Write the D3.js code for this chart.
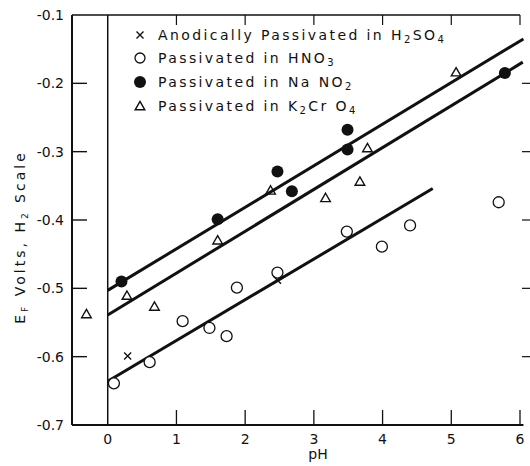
<!DOCTYPE html>
<html>
<head>
<meta charset="utf-8">
<script src="https://cdn.jsdelivr.net/npm/d3@7"></script>
<style>
  body { margin: 0; background: #fff; }
  svg text { font-family: "DejaVu Sans", sans-serif; fill: #111; }
</style>
</head>
<body>
<svg id="chart"></svg>
<script>
// data (pH, E_F volts)
var h2so4 = [[0.29, -0.599], [2.47, -0.488]];
var hno3 = [[0.09, -0.639], [0.61, -0.608], [1.09, -0.548], [1.48, -0.558], [1.73, -0.570],
            [1.88, -0.499], [2.47, -0.477], [3.48, -0.417], [3.99, -0.439], [4.40, -0.408], [5.69, -0.374]];
var nano2 = [[0.2, -0.49], [1.6, -0.399], [2.47, -0.329], [2.68, -0.358], [3.49, -0.268],
             [3.49, -0.297], [5.78, -0.185]];
var k2cro4 = [[-0.31, -0.539], [0.28, -0.512], [0.68, -0.528], [1.6, -0.431], [2.37, -0.358],
              [3.17, -0.369], [3.67, -0.345], [3.78, -0.296], [5.07, -0.185]];
// fitted lines: [pH start, E start, pH end, E end]
var fitLines = [[0, -0.503, 6.05, -0.135], [0, -0.539, 6.04, -0.169], [0, -0.636, 4.73, -0.354]];

var xTicks = [0, 1, 2, 3, 4, 5, 6];
var yTicks = [-0.1, -0.2, -0.3, -0.4, -0.5, -0.6, -0.7];

var margin = {top: 15, right: 8, bottom: 41, left: 72},
    width = 530, height = 466;

var svg = d3.select("#chart").attr("width", width).attr("height", height);

var x = d3.scaleLinear().domain([-0.52, 6]).range([margin.left, 520]);
var y = d3.scaleLinear().domain([-0.7, -0.1]).range([height - margin.bottom, margin.top]);

var g = svg.append("g");

// frame: left, bottom, top
g.append("line").attr("x1", x(-0.52)).attr("x2", x(-0.52)).attr("y1", y(-0.1)).attr("y2", y(-0.7))
  .attr("stroke", "#111").attr("stroke-width", 2);
g.append("line").attr("x1", x(-0.52)).attr("x2", x(6.05)).attr("y1", y(-0.7)).attr("y2", y(-0.7))
  .attr("stroke", "#111").attr("stroke-width", 2);
g.append("line").attr("x1", x(-0.52)).attr("x2", x(6)).attr("y1", y(-0.1)).attr("y2", y(-0.1))
  .attr("stroke", "#111").attr("stroke-width", 1.6);
// pH 0 line
g.append("line").attr("x1", x(0)).attr("x2", x(0)).attr("y1", y(-0.1)).attr("y2", y(-0.7))
  .attr("stroke", "#111").attr("stroke-width", 1.5);

// left axis ticks (inward)
g.selectAll(".ytick").data(yTicks.slice(1, 6)).enter().append("line")
  .attr("x1", x(-0.52)).attr("x2", x(-0.52) + 15)
  .attr("y1", function(d) { return y(d); }).attr("y2", function(d) { return y(d); })
  .attr("stroke", "#111").attr("stroke-width", 1.4);
g.selectAll(".ylab").data(yTicks).enter().append("text")
  .attr("x", x(-0.52) - 8).attr("y", function(d) { return y(d) + 5; })
  .attr("text-anchor", "end").style("font-size", "14px")
  .text(function(d) { return d.toFixed(1); });

// right ticks
g.selectAll(".rtick").data(yTicks.slice(1, 6)).enter().append("line")
  .attr("x1", 522).attr("x2", 530)
  .attr("y1", function(d) { return y(d); }).attr("y2", function(d) { return y(d); })
  .attr("stroke", "#111").attr("stroke-width", 1.2);

// bottom ticks (inward) and top ticks
g.selectAll(".xtick").data(xTicks.slice(1)).enter().append("line")
  .attr("x1", function(d) { return x(d); }).attr("x2", function(d) { return x(d); })
  .attr("y1", y(-0.7)).attr("y2", y(-0.7) - 15)
  .attr("stroke", "#111").attr("stroke-width", 1.3);
g.selectAll(".ttick").data(xTicks.slice(1)).enter().append("line")
  .attr("x1", function(d) { return x(d); }).attr("x2", function(d) { return x(d); })
  .attr("y1", y(-0.1)).attr("y2", y(-0.1) + 10)
  .attr("stroke", "#111").attr("stroke-width", 1.2);
g.selectAll(".xlab").data(xTicks).enter().append("text")
  .attr("x", function(d) { return x(d); }).attr("y", y(-0.7) + 19)
  .attr("text-anchor", "middle").style("font-size", "14px")
  .text(function(d) { return d; });

// axis titles
g.append("text").attr("x", 318).attr("y", 459).attr("text-anchor", "middle")
  .style("font-size", "14px").text("pH");
var yt = g.append("text").attr("transform", "translate(25,237) rotate(-90)")
  .attr("text-anchor", "middle").style("font-size", "14px").style("letter-spacing", "3px");
yt.append("tspan").text("E");
yt.append("tspan").attr("dy", 3).style("font-size", "9px").text("F");
yt.append("tspan").attr("dy", -3).text(" Volts,  H");
yt.append("tspan").attr("dy", 3).style("font-size", "9px").text("2");
yt.append("tspan").attr("dy", -3).text(" Scale");

// fit lines
g.selectAll(".fit").data(fitLines).enter().append("line")
  .attr("x1", function(d) { return x(d[0]); }).attr("y1", function(d) { return y(d[1]); })
  .attr("x2", function(d) { return x(d[2]); }).attr("y2", function(d) { return y(d[3]); })
  .attr("stroke", "#111").attr("stroke-width", 3);

// markers
var tri = d3.symbol().type(d3.symbolTriangle).size(40);

function drawCross(sel, px, py) {
  sel.append("path").attr("transform", "translate(" + px + "," + py + ")")
    .attr("d", "M-3.5,-3.5L3.5,3.5M-3.5,3.5L3.5,-3.5").attr("stroke", "#111").attr("stroke-width", 1.4);
}

g.selectAll(".hno3").data(hno3).enter().append("circle")
  .attr("cx", function(d) { return x(d[0]); }).attr("cy", function(d) { return y(d[1]); })
  .attr("r", 5.5).attr("fill", "#fff").attr("stroke", "#111").attr("stroke-width", 1.3);
g.selectAll(".nano2").data(nano2).enter().append("circle")
  .attr("cx", function(d) { return x(d[0]); }).attr("cy", function(d) { return y(d[1]); })
  .attr("r", 6).attr("fill", "#111");
g.selectAll(".k2").data(k2cro4).enter().append("path")
  .attr("transform", function(d) { return "translate(" + x(d[0]) + "," + y(d[1]) + ")"; })
  .attr("d", tri).attr("fill", "none").attr("stroke", "#111").attr("stroke-width", 1.4);
h2so4.forEach(function(d) { drawCross(g, x(d[0]), y(d[1])); });

// legend
var legY = [35, 58, 82, 106];
var lx = 140, tx = 158;
drawCross(g, lx, legY[0]);
g.append("circle").attr("cx", lx).attr("cy", legY[1]).attr("r", 5).attr("fill", "#fff")
  .attr("stroke", "#111").attr("stroke-width", 1.3);
g.append("circle").attr("cx", lx).attr("cy", legY[2]).attr("r", 6).attr("fill", "#111");
g.append("path").attr("transform", "translate(" + lx + "," + (legY[3] + 1) + ")").attr("d", tri)
  .attr("fill", "none").attr("stroke", "#111").attr("stroke-width", 1.4);

function legText(yy, parts) {
  var t = g.append("text").attr("x", tx).attr("y", yy + 5).style("font-size", "14px")
    .style("letter-spacing", "2.4px");
  parts.forEach(function(p) {
    if (p.sub) t.append("tspan").attr("dy", 3).style("font-size", "10px").text(p.sub);
    else t.append("tspan").attr("dy", p.up ? -3 : 0).text(p.t);
  });
}
legText(legY[0], [{t: "Anodically Passivated in H"}, {sub: "2"}, {t: "SO", up: true}, {sub: "4"}]);
legText(legY[1], [{t: "Passivated  in  HNO"}, {sub: "3"}]);
legText(legY[2], [{t: "Passivated  in  Na NO"}, {sub: "2"}]);
legText(legY[3], [{t: "Passivated  in  K"}, {sub: "2"}, {t: "Cr O", up: true}, {sub: "4"}]);
</script>
</body>
</html>
